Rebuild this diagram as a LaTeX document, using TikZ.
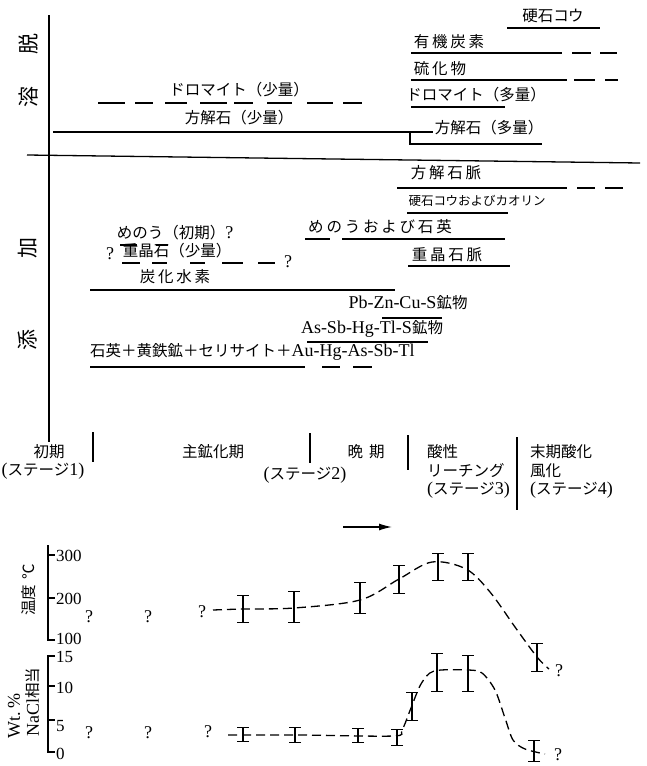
\documentclass[tikz,border=0pt]{standalone}
\usepackage{fontspec}
\setmainfont{Liberation Serif}
\newfontfamily\jpfont{Noto Sans CJK JP}
\newfontfamily\jpwfont[LetterSpace=18]{Noto Sans CJK JP}
\usetikzlibrary{arrows.meta}
\newcommand{\Jt}{\jpfont\fontsize{15.5}{17}\selectfont}
\newcommand{\Jw}{\jpwfont\fontsize{15.5}{17}\selectfont}
\newcommand{\Js}{\jpfont\fontsize{12.5}{15}\selectfont}
\newcommand{\Jside}{\jpfont\fontsize{21}{23}\selectfont}
\newcommand{\Lt}{\rmfamily\fontsize{18}{20}\selectfont}
\newcommand{\Ln}{\rmfamily\fontsize{17}{19}\selectfont}
\tikzset{
  lbl/.style={inner sep=0pt, font=\Jt},
  wlbl/.style={inner sep=0pt, font=\Jw},
  qm/.style={inner sep=0pt, font=\Lt},
  num/.style={inner sep=0pt, font=\Ln, anchor=west},
  bar/.style={line width=1.3pt},
  dbar/.style={line width=1.3pt},
  ebar/.style={line width=1.3pt, {Bar[width=12pt]}-{Bar[width=12pt]}},
  curve/.style={line width=1.3pt, dash pattern=on 9pt off 5pt},
}
\begin{document}
\begin{tikzpicture}[x=1pt,y=-1pt]
\useasboundingbox (0,0) rectangle (647,766);

% ---- axes of the paragenesis chart
\draw[bar] (49,15) -- (49,442);
\draw[bar] (27,155) -- (640,163);

% ---- side labels
\node[inner sep=0pt, font=\Jside, rotate=90] (s-datsu) at (29,44) {脱};
\node[inner sep=0pt, font=\Jside, rotate=90] (s-yo) at (29,97) {溶};
\node[inner sep=0pt, font=\Jside, rotate=90] (s-ka) at (28,248) {加};
\node[inner sep=0pt, font=\Jside, rotate=90] (s-ten) at (28,340) {添};

% ---- leaching (upper) part
\node[lbl] (t-anhy) at (553,16) {硬石コウ};
\draw[bar] (507,28) -- (600,28);

\node[wlbl] (t-orgc) at (449,42) {有機炭素};
\draw[bar] (411,53) -- (562,53);
\draw[dbar] (572,53) -- (591,53) (600,53) -- (617,53);

\node[wlbl] (t-sulf) at (440,69) {硫化物};
\draw[bar] (411,80) -- (567,80);
\draw[dbar] (574,80) -- (595,80) (605,80) -- (618,80);

\node[lbl] (t-dolL) at (476,95) {ドロマイト（多量）};
\draw[bar] (411,107) -- (505,107);

\node[lbl] (t-dolS) at (239,90) {ドロマイト（少量）};
\draw[dbar] (98,103) -- (125,103) (135,103) -- (153,103) (165,103) -- (187,103)
  (200,103) -- (227,103) (234,103) -- (253,103) (267,103) -- (292,103)
  (307,103) -- (333,103) (343,103) -- (362,103);

\node[lbl] (t-calS) at (239,118) {方解石（少量）};
\node[lbl] (t-calL) at (489,128) {方解石（多量）};
\draw[bar] (53,132) -- (433,132);
\draw[bar] (410,132) -- (410,144) -- (542,144);

% ---- addition (lower) part
\node[wlbl] (t-calv) at (446,173) {方解石脈};
\draw[bar] (397,188) -- (567,188);
\draw[dbar] (577,188) -- (595,188) (605,188) -- (623,188);

\node[inner sep=0pt, font=\Js] (t-anka) at (477,201) {硬石コウおよびカオリン};
\draw[bar] (407,213) -- (508,213);

\node[wlbl] (t-agqz) at (380,227) {めのうおよび石英};
\draw[dbar] (305,239) -- (330,239);
\draw[bar] (342,239) -- (505,239);

\node[wlbl] (t-barv) at (447,255) {重晶石脈};
\draw[bar] (408,266) -- (510,266);

\node[lbl] (t-agE) at (175,233) {めのう（初期）{\Lt ?}};
\draw[dbar] (120,245) -- (137,245) (156,245) -- (168,245);

\node[qm] (q-bar1) at (110,254) {?};
\node[lbl] (t-barS) at (177,251) {重晶石（少量）};
\draw[dbar] (122,263) -- (140,263) (152,263) -- (167,263) (190,263) -- (205,263)
  (222,263) -- (243,263) (258,263) -- (275,263);
\node[qm] (q-bar2) at (288,262) {?};

\node[wlbl] (t-hc) at (175,277) {炭化水素};
\draw[bar] (90,290) -- (395,290);

\node[lbl] (t-pb) at (408,303) {{\Lt Pb-Zn-Cu-S}鉱物};
\draw[bar] (382,318) -- (442,318);

\node[lbl] (t-as) at (372,329) {{\Lt As-Sb-Hg-Tl-S}鉱物};
\draw[bar] (307,342) -- (428,342);

\node[lbl, anchor=west] (t-qz) at (90,352) {石英＋黄鉄鉱＋セリサイト＋{\Lt Au-Hg-As-Sb-Tl}};
\draw[bar] (90,367) -- (305,367);
\draw[dbar] (322,367) -- (340,367) (353,367) -- (372,367);

% ---- stages
\node[lbl] (st1a) at (49,452) {初期};
\node[lbl] (st1b) at (43,471) {{\Lt (}ステージ{\Lt 1)}};
\draw[bar] (93,432) -- (93,462);
\node[lbl] (st-main) at (213,452) {主鉱化期};
\draw[bar] (310,433) -- (310,463);
\node[lbl] (st2b) at (305,475) {{\Lt (}ステージ{\Lt 2)}};
\node[lbl] (st-late) at (366,452) {晩\hspace{6pt}期};
\draw[bar] (408,435) -- (408,470);
\node[lbl, anchor=west] (st3a) at (427,452) {酸性};
\node[lbl, anchor=west] (st3b) at (427,471) {リーチング};
\node[lbl, anchor=west] (st3c) at (427,490) {{\Lt (}ステージ{\Lt 3)}};
\draw[bar] (517,437) -- (517,510);
\node[lbl, anchor=west] (st4a) at (530,452) {末期酸化};
\node[lbl, anchor=west] (st4b) at (530,471) {風化};
\node[lbl, anchor=west] (st4c) at (530,490) {{\Lt (}ステージ{\Lt 4)}};

\coordinate (ar1) at (343,527);
\coordinate (ar2) at (392,527);
\draw[line width=1.3pt, -{Latex[length=13pt,width=7pt]}] (ar1) -- (ar2);

% ---- temperature chart
\draw[bar] (48,545) -- (48,640) -- (55,640);
\draw[bar] (48,555) -- (55,555) (48,598) -- (55,598);
\node[num] (n300) at (56,556) {300};
\node[num] (n200) at (56,599) {200};
\node[num] (n100) at (56,639) {100};
\node[lbl, rotate=90] (ylab-t) at (29,590) {温度\hspace{5pt}℃};

\node[qm] (qt1) at (89,617) {?};
\node[qm] (qt2) at (148,617) {?};
\node[qm] (qt3) at (202,612) {?};
\node[qm] (qt4) at (559,671) {?};

\draw[ebar] (243,595) -- (243,623);
\draw[ebar] (294,591) -- (294,623);
\draw[ebar] (360,582) -- (360,614);
\draw[ebar] (399,565) -- (399,594);
\draw[ebar] (438,553) -- (438,581);
\draw[ebar] (468,553) -- (468,581);
\draw[ebar] (537,643) -- (537,672);
\draw[curve] plot[smooth, tension=0.55] coordinates {(213,610) (243,609) (294,608) (360,600) (399,579) (432,562) (466,569) (490,592) (515,627) (537,657) (549,669)};

% ---- salinity chart
\draw[bar] (55,656) -- (48,656) -- (48,752) -- (55,752);
\draw[bar] (48,686) -- (55,686) (48,720) -- (55,720);
\node[num] (n15) at (56,657) {15};
\node[num] (n10) at (56,688) {10};
\node[num] (n5) at (56,726) {5};
\node[num] (n0) at (56,754) {0};
\node[inner sep=0pt, font=\Lt, rotate=90] (ylab-w1) at (14,716) {Wt.\,\%};
\node[lbl, rotate=90] (ylab-w2) at (33,702) {{\Lt NaCl}相当};

\node[qm] (qs1) at (89,733) {?};
\node[qm] (qs2) at (148,733) {?};
\node[qm] (qs3) at (208,732) {?};
\node[qm] (qs4) at (558,755) {?};

\draw[ebar] (243,727) -- (243,742);
\draw[ebar] (295,727) -- (295,743);
\draw[ebar] (358,728) -- (358,743);
\draw[ebar] (397,729) -- (397,746);
\draw[ebar] (412,692) -- (412,721);
\draw[ebar] (437,653) -- (437,692);
\draw[ebar] (468,655) -- (468,692);
\draw[ebar] (534,740) -- (534,762);
\draw[curve] plot[smooth, tension=0.5] coordinates {(228,735) (300,735) (393,736) (402,730) (411,708) (421,684) (434,671) (468,670) (482,673) (495,690) (505,718) (513,740) (525,749) (545,754)};

\end{tikzpicture}
\end{document}
